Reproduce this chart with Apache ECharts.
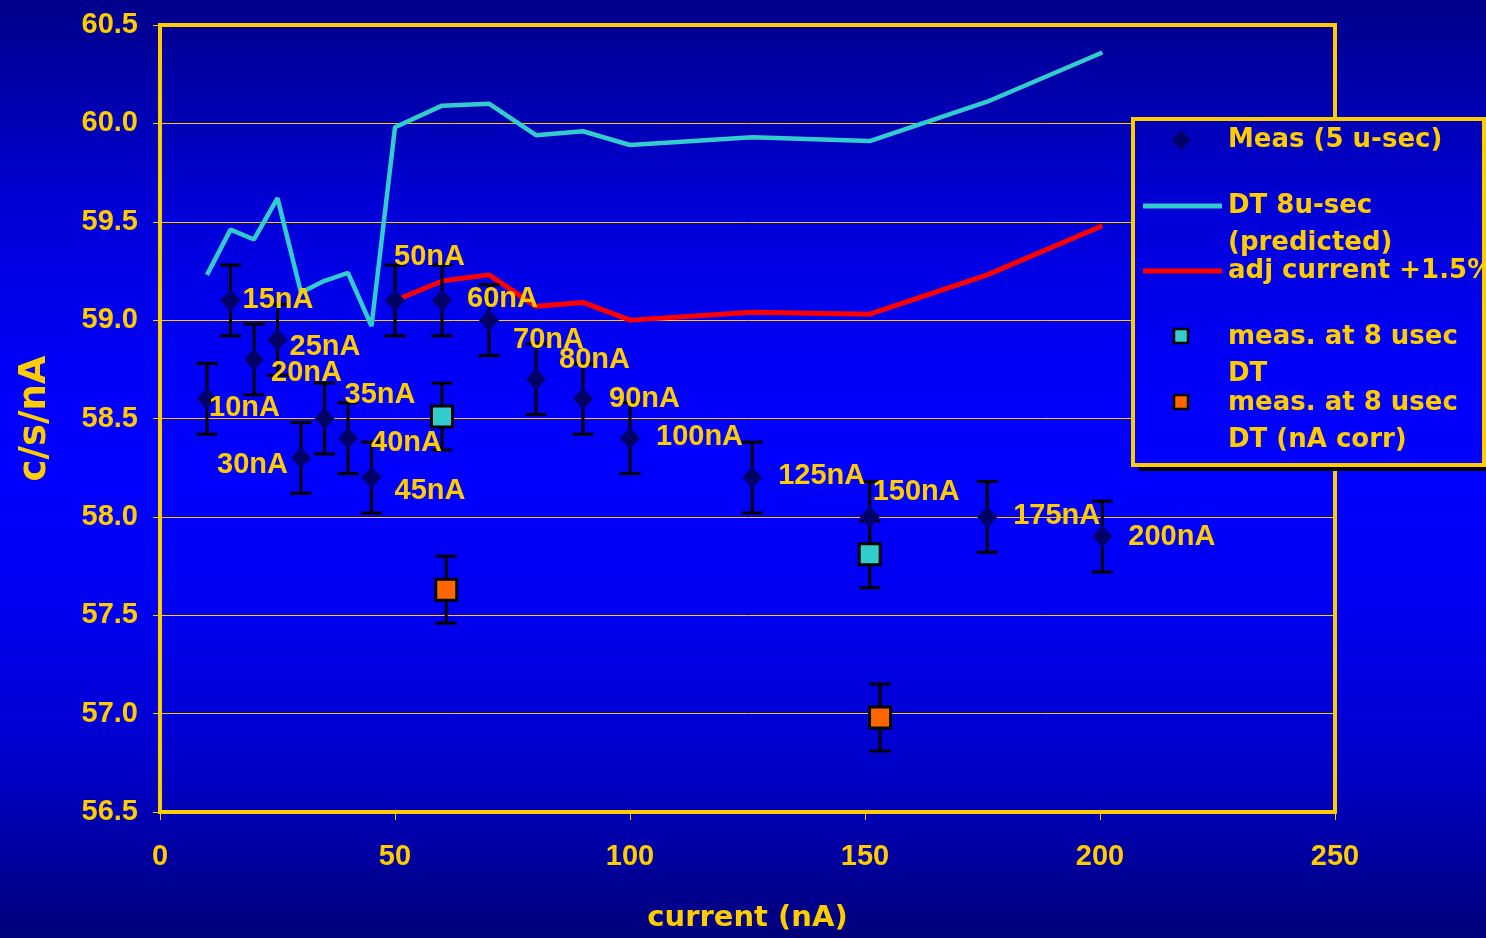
<!DOCTYPE html>
<html>
<head>
<meta charset="utf-8">
<title>Count rate per nA vs beam current</title>
<script src="https://cdn.jsdelivr.net/npm/echarts@6/dist/echarts.min.js"></script>
<style>
  html, body { margin: 0; padding: 0; background: #0000cc; }
  #chart { width: 1486px; height: 938px; }
</style>
</head>
<body>
<div id="chart"></div>
<script>
// Measured count rate per nA at 5 usec dead time
const measCurrent = [10, 15, 20, 25, 30, 35, 40, 45, 50, 60, 70, 80, 90, 100, 126, 151, 176, 200.5];
const measRate    = [58.6, 59.1, 58.8, 58.9, 58.3, 58.5, 58.4, 58.2, 59.1, 59.1, 59.0, 58.7, 58.6, 58.4, 58.2, 58.0, 58.0, 57.9];
const measError   = [0.18, 0.18, 0.18, 0.18, 0.18, 0.18, 0.18, 0.18, 0.18, 0.18, 0.18, 0.18, 0.18, 0.18, 0.18, 0.18, 0.18, 0.18];
const measLabels  = ['10nA', '15nA', '20nA', '25nA', '30nA', '35nA', '40nA', '45nA', '50nA', '60nA', '70nA', '80nA', '90nA', '100nA', '125nA', '150nA', '175nA', '200nA'];

// Predicted rate at 8 usec dead time
const predCurrent = [10, 15, 20, 25, 30, 35, 40, 45, 50, 60, 70, 80, 90, 100, 126, 151, 176, 200.5];
const predRate    = [59.23, 59.46, 59.41, 59.62, 59.14, 59.2, 59.24, 58.97, 59.98, 60.09, 60.1, 59.94, 59.96, 59.89, 59.93, 59.91, 60.11, 60.36];

// Prediction with current scaled by +1.5%
const adjCurrent = [51, 60.2, 70, 80, 90, 100, 126, 151, 176, 200.5];
const adjRate    = [59.11, 59.2, 59.23, 59.07, 59.09, 59.0, 59.04, 59.03, 59.23, 59.48];

// Measured at 8 usec dead time
const dt8Current = [60, 151];
const dt8Rate    = [58.51, 57.81];
const dt8Error   = [0.17, 0.17];

// Measured at 8 usec dead time, nA corrected
const corrCurrent = [60.9, 153.2];
const corrRate    = [57.63, 56.98];
const corrError   = [0.17, 0.17];

// Axis ticks
const xTicks = { min: 0, max: 250, step: 50 };
const yTicks = { min: 56.5, max: 60.5, step: 0.5 };

// Placement of each point label relative to its marker (pixels); 'r' anchors the text's right edge
const labelOffsets = [
  [2, 9], [12, 0], [17, 14], [12, 7], [-13, 7, 'r'], [20, -24], [23, 5], [23, 13], [-1, -43],
  [25, -1], [24, 20], [23, -19], [26, 0], [26, -1], [26, -2], [3, -25], [26, -1], [26, 0]
];

const YELLOW = '#FFCC00';
const NAVY = '#000066';
const CYAN = '#33CCCC';
const ORANGE = '#FF6600';
const RED = '#FF0000';
const tickFont = 'Liberation Sans, Arial, sans-serif';
const wideFont = 'DejaVu Sans, Verdana, sans-serif';

const bgStops = [
  { offset: 0.00, color: '#00008A' },
  { offset: 0.15, color: '#0000BD' },
  { offset: 0.22, color: '#0000D6' },
  { offset: 0.40, color: '#0000FA' },
  { offset: 0.52, color: '#0000FF' },
  { offset: 0.64, color: '#0000F2' },
  { offset: 0.81, color: '#0000CC' },
  { offset: 1.00, color: '#00007A' }
];

function pairs(xs, ys) { return xs.map((x, i) => [x, ys[i]]); }

function errorBars(xs, ys, errs, z) {
  return {
    type: 'custom',
    z: z,
    silent: true,
    data: xs.map((x, i) => [x, ys[i] - errs[i], ys[i] + errs[i]]),
    encode: { x: 0, y: [1, 2] },
    renderItem: function (params, api) {
      const lo = api.coord([api.value(0), api.value(1)]);
      const hi = api.coord([api.value(0), api.value(2)]);
      const hw = 10.5;
      const style = { stroke: '#000', lineWidth: 3 };
      return {
        type: 'group',
        children: [
          { type: 'line', shape: { x1: hi[0], y1: hi[1], x2: lo[0], y2: lo[1] }, style: style },
          { type: 'line', shape: { x1: hi[0] - hw, y1: hi[1], x2: hi[0] + hw, y2: hi[1] }, style: style },
          { type: 'line', shape: { x1: lo[0] - hw, y1: lo[1], x2: lo[0] + hw, y2: lo[1] }, style: style }
        ]
      };
    }
  };
}

const measData = measCurrent.map((x, i) => {
  const off = labelOffsets[i];
  return {
    value: [x, measRate[i]],
    label: {
      offset: [off[0], off[1]],
      align: off[2] === 'r' ? 'right' : 'left'
    }
  };
});

// Legend drawn as graphic elements
const LX = 1133, LY = 119, LW = 351, LH = 346;
const legendText = (text, y) => ({
  type: 'text', z: 102,
  style: { text: text, x: 1228, y: y, fill: YELLOW, font: 'bold 26px ' + wideFont, verticalAlign: 'middle', align: 'left' }
});
const legendGraphic = [
  { type: 'rect', z: 100, shape: { x: LX + 6, y: LY + 6, width: LW, height: LH }, style: { fill: '#000' } },
  {
    type: 'rect', z: 101, shape: { x: LX, y: LY, width: LW, height: LH },
    style: {
      fill: { type: 'linear', x: 0, y: 0, x2: 0, y2: 938, global: true, colorStops: bgStops },
      stroke: YELLOW, lineWidth: 4
    }
  },
  { type: 'polygon', z: 102, shape: { points: [[1181, 130], [1190.5, 140], [1181, 150], [1171.5, 140]] }, style: { fill: NAVY } },
  legendText('Meas (5 u-sec)', 140),
  { type: 'line', z: 102, shape: { x1: 1143, y1: 206, x2: 1222, y2: 206 }, style: { stroke: CYAN, lineWidth: 5 } },
  legendText('DT 8u-sec', 206),
  legendText('(predicted)', 243),
  { type: 'line', z: 102, shape: { x1: 1143, y1: 271, x2: 1222, y2: 271 }, style: { stroke: RED, lineWidth: 5 } },
  legendText('adj current +1.5%', 271),
  { type: 'rect', z: 102, shape: { x: 1174, y: 329, width: 14, height: 14 }, style: { fill: CYAN, stroke: '#000', lineWidth: 2.5 } },
  legendText('meas. at 8 usec', 337),
  legendText('DT', 374),
  { type: 'rect', z: 102, shape: { x: 1174, y: 395, width: 14, height: 14 }, style: { fill: ORANGE, stroke: '#000', lineWidth: 2.5 } },
  legendText('meas. at 8 usec', 403),
  legendText('DT (nA corr)', 440)
];

const chart = echarts.init(document.getElementById('chart'), null, { renderer: 'canvas' });

chart.setOption({
  animation: false,
  backgroundColor: { type: 'linear', x: 0, y: 0, x2: 0, y2: 1, colorStops: bgStops },
  grid: {
    left: 160, right: 151, top: 25, bottom: 125,
    show: true, borderColor: YELLOW, borderWidth: 4, backgroundColor: 'transparent'
  },
  xAxis: {
    type: 'value',
    min: xTicks.min, max: xTicks.max, interval: xTicks.step,
    name: 'current (nA)',
    nameLocation: 'middle',
    nameGap: 92,
    nameTextStyle: { color: YELLOW, fontFamily: wideFont, fontWeight: 'bold', fontSize: 29 },
    axisLine: { show: false },
    axisTick: { show: true, length: 8, inside: false, lineStyle: { color: YELLOW, width: 1 } },
    axisLabel: { color: YELLOW, fontFamily: tickFont, fontWeight: 'bold', fontSize: 29, margin: 30 },
    splitLine: { show: false }
  },
  yAxis: {
    type: 'value',
    min: yTicks.min, max: yTicks.max, interval: yTicks.step,
    name: 'c/s/nA',
    nameLocation: 'middle',
    nameGap: 106,
    nameRotate: 90,
    nameTextStyle: { color: YELLOW, fontFamily: wideFont, fontWeight: 'bold', fontSize: 37 },
    axisLine: { show: false },
    axisTick: { show: true, length: 7, inside: false, lineStyle: { color: YELLOW, width: 1 } },
    axisLabel: {
      color: YELLOW, fontFamily: tickFont, fontWeight: 'bold', fontSize: 29, margin: 22,
      formatter: v => v.toFixed(1)
    },
    splitLine: { show: true, lineStyle: { color: YELLOW, width: 1 } }
  },
  series: [
    {
      name: 'DT 8u-sec (predicted)',
      type: 'line', z: 3,
      data: pairs(predCurrent, predRate),
      symbol: 'none',
      lineStyle: { color: CYAN, width: 4.5 }
    },
    {
      name: 'adj current +1.5%',
      type: 'line', z: 3,
      data: pairs(adjCurrent, adjRate),
      symbol: 'none',
      lineStyle: { color: RED, width: 5 }
    },
    errorBars(measCurrent, measRate, measError, 4),
    errorBars(dt8Current, dt8Rate, dt8Error, 4),
    errorBars(corrCurrent, corrRate, corrError, 4),
    {
      name: 'Meas (5 u-sec)',
      type: 'scatter', z: 5,
      data: measData,
      symbol: 'diamond',
      symbolSize: [20, 22],
      itemStyle: { color: NAVY, opacity: 1 },
      label: {
        show: true,
        position: 'inside',
        verticalAlign: 'middle',
        color: YELLOW,
        fontFamily: tickFont,
        fontWeight: 'bold',
        fontSize: 29,
        formatter: p => measLabels[p.dataIndex]
      }
    },
    {
      name: 'meas. at 8 usec DT',
      type: 'scatter', z: 6,
      data: pairs(dt8Current, dt8Rate),
      symbol: 'rect',
      symbolSize: 21,
      itemStyle: { color: CYAN, borderColor: '#000', borderWidth: 3, opacity: 1 }
    },
    {
      name: 'meas. at 8 usec DT (nA corr)',
      type: 'scatter', z: 6,
      data: pairs(corrCurrent, corrRate),
      symbol: 'rect',
      symbolSize: 21,
      itemStyle: { color: ORANGE, borderColor: '#000', borderWidth: 3, opacity: 1 }
    }
  ],
  graphic: legendGraphic
});
</script>
</body>
</html>
